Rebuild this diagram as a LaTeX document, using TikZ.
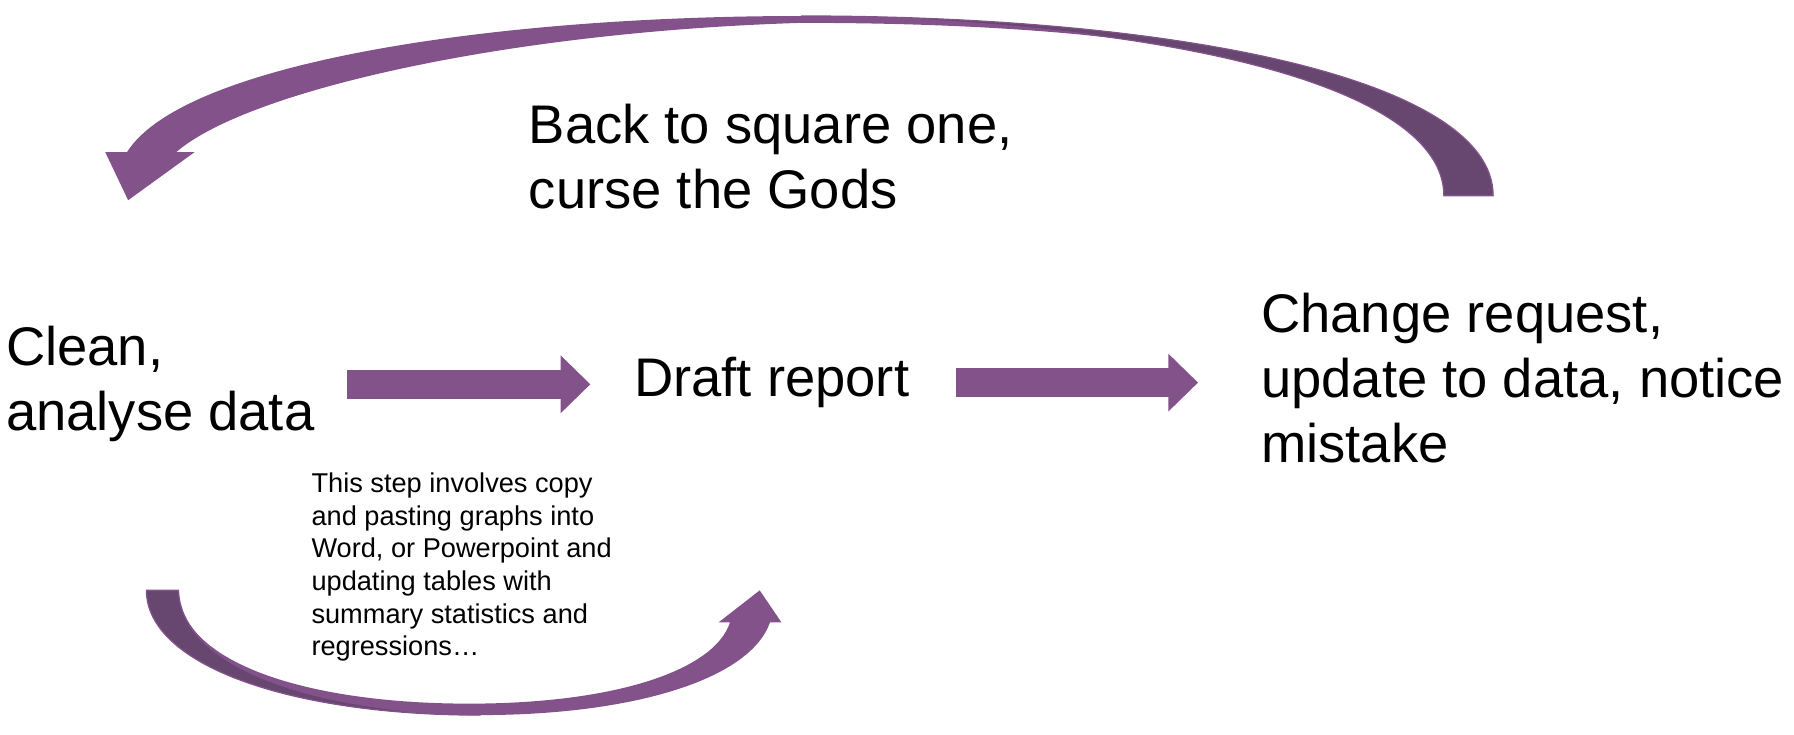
\documentclass[tikz,border=0pt]{standalone}
\usepackage{fontspec}
\setmainfont{Liberation Sans}
\usepackage{xcolor}
\usetikzlibrary{arrows.meta, positioning}
\definecolor{loopmain}{HTML}{83528B}
\definecolor{loopdark}{HTML}{674670}
\tikzset{%
	big label/.style={
		anchor=north west,
		inner sep=0pt,
		align=left,
		font=\fontsize{33.8}{40.5}\selectfont
	},
	small note/.style={
		anchor=north west,
		inner sep=0pt,
		align=left,
		font=\fontsize{16.9}{20.3}\selectfont
	},
	flow/.style={
		draw=loopmain,
		line width=17.8pt,
		-{Triangle[width=34.8pt, length=18.5pt]}
	},
	twist/.style={
		fill=loopdark,
		draw=loopmain,
		line width=0.8pt
	},
}
% outlines of the two curved arrows
\newcommand{\backloop}{(1305,171) .. controls (1305,70) and (1034,14) .. (700,14)
	.. controls (430,14) and (160,55) .. (111,133) -- (92,133) -- (112,175) -- (170,133) -- (154,133)
	.. controls (215,80) and (440,28) .. (700,20)
	.. controls (1050,20) and (1262,70) .. (1262,171) -- cycle}
\newcommand{\pasteloop}{(128,516) .. controls (128,580) and (250,625) .. (420,625)
	.. controls (550,625) and (655,595) .. (673,544) -- (683,544) -- (664,516) -- (628,544) -- (638,544)
	.. controls (625,585) and (540,615) .. (410,615)
	.. controls (270,615) and (158,580) .. (156,516) -- cycle}

\begin{document}
\begin{tikzpicture}[x=0.025cm, y=-0.025cm]
			\useasboundingbox (0,0) rectangle (1568,642);
			
			\node[big label] (clean) at (5,285) {Clean,\\analyse data};
			\node[big label] (draft) at (554,312) {Draft report};
			\node[big label] (change) at (1102,256) {Change request,\\update to data, notice\\mistake};
			\node[big label] (back) at (462,91) {Back to square one,\\curse the Gods};
			\node[small note] (note) at (272,413) {This step involves copy\\and pasting graphs into\\Word, or Powerpoint and\\updating tables with\\summary statistics and\\regressions…};
			
			\draw[flow, shorten <=19.9pt, shorten >=27pt] (clean) -- (clean -| draft.west);
			\draw[flow, shorten <=29pt, shorten >=39pt] (draft) -- (draft -| change.west);
			
			% back to square one
			\fill[loopmain] \backloop;
			\filldraw[twist] (1305,171) .. controls (1305,70) and (1034,14) .. (700,14)
				.. controls (1020,18) and (1262,75) .. (1262,171) -- cycle;
			
			% copy and paste
			\fill[loopmain] \pasteloop;
			\filldraw[twist] (128,516) .. controls (128,580) and (250,625) .. (420,625)
				.. controls (265,622) and (158,580) .. (156,516) -- cycle;
		\end{tikzpicture}
\end{document}
